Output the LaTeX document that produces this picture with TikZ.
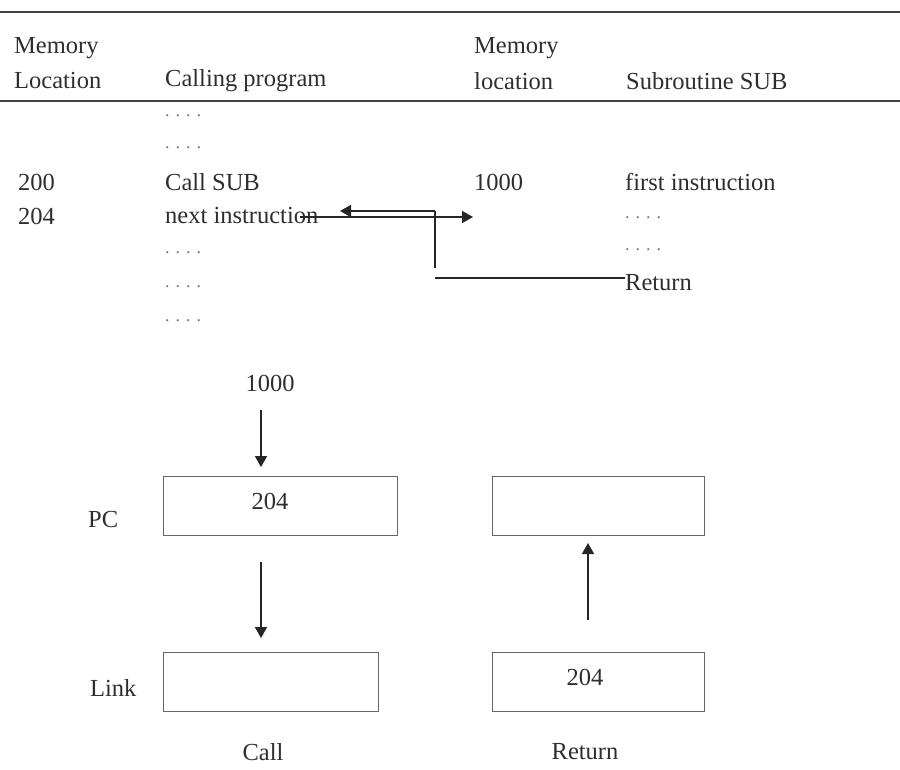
\documentclass[tikz,border=0pt]{standalone}
\usepackage{fontspec}
\setmainfont{Liberation Serif}
\usetikzlibrary{arrows.meta}
\begin{document}
\begin{tikzpicture}[x=1pt,y=-1pt,
  txt/.style={anchor=west,inner sep=0pt,font=\fontsize{24.5}{28}\selectfont,text=black!82},
  ctxt/.style={anchor=center,inner sep=0pt,font=\fontsize{24.5}{28}\selectfont,text=black!82},
  dots/.style={anchor=west,inner sep=0pt,font=\fontsize{18}{20}\selectfont,text=black!55},
  rule/.style={line width=2pt,draw=black!75},
  conn/.style={line width=1.6pt,draw=black!85},
  arr/.style={conn,-{Triangle[length=11pt,width=12pt]}},
  reg/.style={draw=black!60,line width=1.3pt,minimum height=59pt,inner sep=0pt,anchor=north west}
]
\useasboundingbox (0,0) rectangle (900,769);
% rules
\coordinate (r1a) at (0,12); \coordinate (r1b) at (900,12);
\coordinate (r2a) at (0,101); \coordinate (r2b) at (900,101);
\draw[rule] (r1a) -- (r1b);
\draw[rule,line width=1.5pt] (r2a) -- (r2b);
% header
\node[txt] (h1) at (14,48) {Memory};
\node[txt] (h2) at (14,81) {Location};
\node[txt] (h3) at (165,81) {Calling program};
\node[txt] (h4) at (474,48) {Memory};
\node[txt] (h5) at (474,81) {location};
\node[txt] (h6) at (626,81) {Subroutine SUB};
% calling program
\node[dots] (d1) at (165,116) {. . . .};
\node[dots] (d2) at (165,148) {. . . .};
\node[txt] (a200) at (18,182) {200};
\node[txt] (call) at (165,182) {Call SUB};
\node[txt] (a204) at (18,216) {204};
\node[txt] (next) at (165,216) {next instruction};
\node[dots] (d3) at (165,253) {. . . .};
\node[dots] (d4) at (165,287) {. . . .};
\node[dots] (d5) at (165,321) {. . . .};
% subroutine
\node[txt] (a1000) at (474,182) {1000};
\node[txt] (first) at (625,182) {first instruction};
\node[dots] (d6) at (625,218) {. . . .};
\node[dots] (d7) at (625,250) {. . . .};
\node[txt] (ret) at (625,283) {Return};
% connectors
\coordinate (cs) at (300,217);
\coordinate (ce) at (473,217);
\draw[arr] (cs) -- (ce);
\coordinate (rr) at (435,278);
\coordinate (rv) at (435,211);
\coordinate (rt) at (340,211);
\draw[conn] (ret.west |- rr) -- (rr);
\draw[conn] (435,268) -- (rv);
\draw[arr] (rv) -- (rt);
% registers
\node[ctxt] (n1000) at (270,383) {1000};
\node[reg,minimum width=234pt] (pc) at (163,476) {};
\node[ctxt] (pcv) at (270,501) {204};
\node[txt] (pcl) at (88,520) {PC};
\node[reg,minimum width=215pt] (link) at (163,652) {};
\node[txt] (linkl) at (90,688) {Link};
\node[ctxt] (callc) at (263,752) {Call};
\node[reg,minimum width=212pt] (pc2) at (492,476) {};
\node[reg,minimum width=212pt] (link2) at (492,652) {};
\node[ctxt] (l2v) at (585,677) {204};
\node[ctxt] (retc) at (585,752) {Return};
\coordinate (a1s) at (261,410); \coordinate (a1e) at (261,467);
\draw[arr] (a1s) -- (a1e);
\coordinate (a2s) at (261,562); \coordinate (a2e) at (261,638);
\draw[arr] (a2s) -- (a2e);
\coordinate (a3s) at (588,620); \coordinate (a3e) at (588,543);
\draw[arr] (a3s) -- (a3e);
\end{tikzpicture}
\end{document}
